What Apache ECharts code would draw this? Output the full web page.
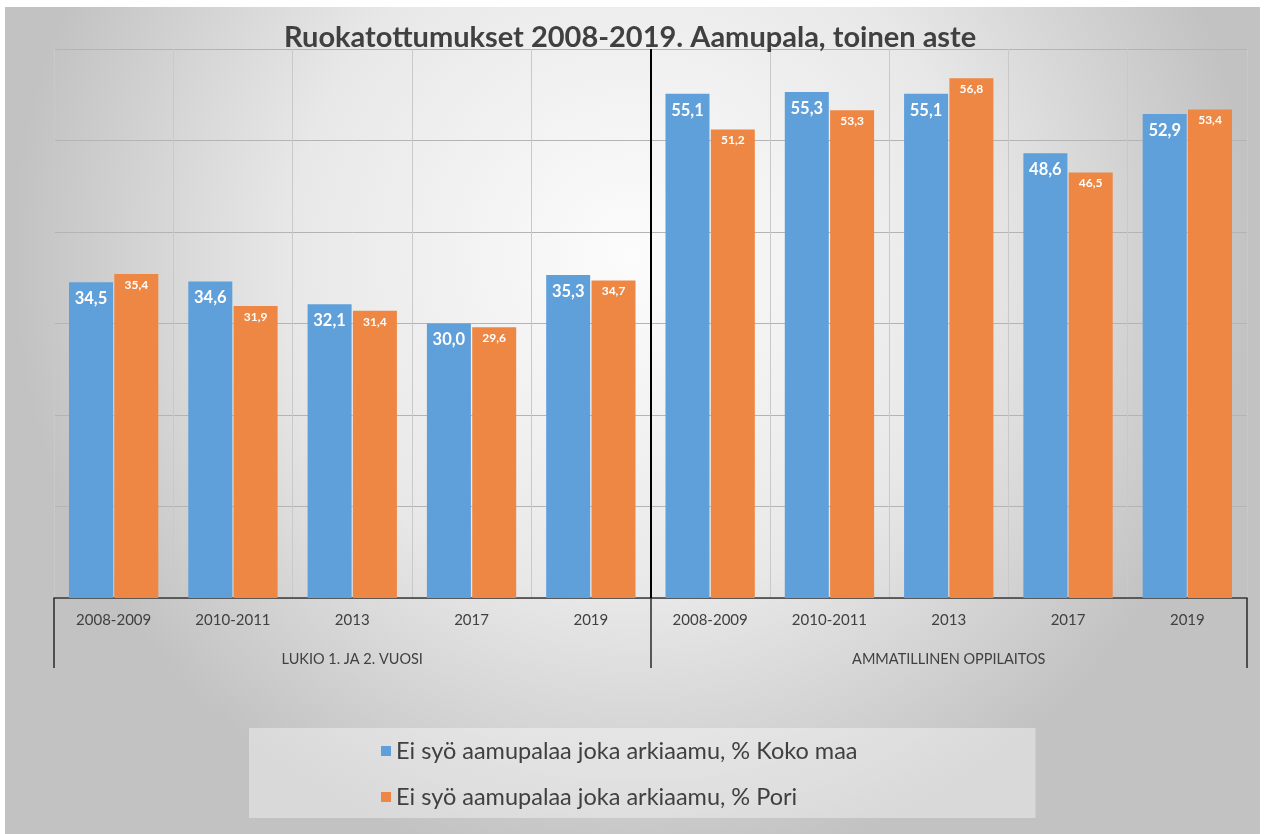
<!DOCTYPE html>
<html>
<head>
<meta charset="utf-8">
<script src="https://cdn.jsdelivr.net/npm/echarts@6/dist/echarts.min.js"></script>
<style>
  html, body { margin: 0; padding: 0; background: #fff; }
  #chart { width: 1267px; height: 834px; }
</style>
</head>
<body>
<div id="chart"></div>
<script>
// Survey periods, repeated for each school type
const years = ['2008-2009', '2010-2011', '2013', '2017', '2019',
               '2008-2009', '2010-2011', '2013', '2017', '2019'];
const schoolTypes = ['LUKIO 1. JA 2. VUOSI', 'AMMATILLINEN OPPILAITOS'];
const seriesNames = ['Ei syö aamupalaa joka arkiaamu, % Koko maa',
                     'Ei syö aamupalaa joka arkiaamu, % Pori'];
// Share (%) of students not eating breakfast every school morning
const kokoMaa = [34.5, 34.6, 32.1, 30.0, 35.3, 55.1, 55.3, 55.1, 48.6, 52.9];
const pori    = [35.4, 31.9, 31.4, 29.6, 34.7, 51.2, 53.3, 56.8, 46.5, 53.4];

const FONT = "Lato, 'Open Sans', sans-serif";
const TEXT = '#404040';
const fmt = p => p.value.toFixed(1).replace('.', ',');

const chart = echarts.init(document.getElementById('chart'));
chart.setOption({
  backgroundColor: '#ffffff',
  textStyle: { fontFamily: FONT },
  graphic: [{
    type: 'rect',
    z: -100,
    silent: true,
    shape: { x: 5, y: 7, width: 1255, height: 827 },
    style: {
      fill: {
        type: 'radial', x: 0.5, y: 0.3, r: 0.75,
        colorStops: [
          { offset: 0, color: '#fcfcfc' },
          { offset: 0.55, color: '#e8e8e8' },
          { offset: 1, color: '#c2c2c2' }
        ]
      }
    }
  }],
  title: {
    text: 'Ruokatottumukset 2008-2019. Aamupala, toinen aste',
    left: 279,
    top: 18,
    textStyle: { fontFamily: FONT, fontSize: 29, fontWeight: 'bold', color: TEXT }
  },
  legend: {
    orient: 'vertical',
    left: 249,
    top: 728,
    padding: [10, 178, 8, 132],
    itemGap: 20,
    itemWidth: 10,
    itemHeight: 10,
    icon: 'rect',
    backgroundColor: 'rgba(255,255,255,0.38)',
    textStyle: { fontFamily: FONT, fontSize: 23.5, color: TEXT, lineHeight: 26 },
    data: seriesNames
  },
  grid: { left: 54, right: 20, top: 49, bottom: 236, containLabel: false },
  xAxis: [{
    type: 'category',
    data: years,
    position: 'bottom',
    axisLine: { show: true, lineStyle: { color: '#3a3a3a', width: 1.5 } },
    axisTick: { show: false },
    axisLabel: { color: TEXT, fontSize: 15, margin: 15, interval: 0, fontFamily: FONT },
    splitLine: { show: true, interval: 0, lineStyle: { color: '#c9c9c9', width: 1 } },
    z: 3
  }, {
    type: 'category',
    data: schoolTypes,
    position: 'bottom',
    axisLine: { show: false },
    axisTick: { show: true, length: 70, interval: 0, lineStyle: { color: '#2a2a2a', width: 1.5 } },
    axisLabel: { color: TEXT, fontSize: 14.5, margin: 54, interval: 0, fontFamily: FONT },
    splitLine: { show: true, showMinLine: false, showMaxLine: false, lineStyle: { color: '#000000', width: 2 } },
    z: 4
  }],
  yAxis: {
    type: 'value',
    min: 0, max: 60, interval: 10,
    axisLine: { show: false },
    axisTick: { show: false },
    axisLabel: { show: false },
    splitLine: { show: true, lineStyle: { color: '#b4b4b4', width: 1 } }
  },
  series: [{
    name: seriesNames[0],
    type: 'bar',
    xAxisIndex: 0,
    data: kokoMaa,
    barWidth: 44,
    barGap: '3%',
    itemStyle: { color: '#5f9fda' },
    label: {
      show: true, position: 'insideTop', distance: 8, formatter: fmt,
      color: '#ffffff', fontSize: 16.5, fontWeight: 'bold', fontFamily: FONT
    },
    z: 5
  }, {
    name: seriesNames[1],
    type: 'bar',
    xAxisIndex: 0,
    data: pori,
    barWidth: 44,
    barGap: '3%',
    itemStyle: { color: '#ee8743' },
    label: {
      show: true, position: 'insideTop', distance: 5, formatter: fmt,
      color: '#ffffff', fontSize: 12, fontWeight: 'bold', fontFamily: FONT
    },
    z: 5
  }]
});
</script>
</body>
</html>
